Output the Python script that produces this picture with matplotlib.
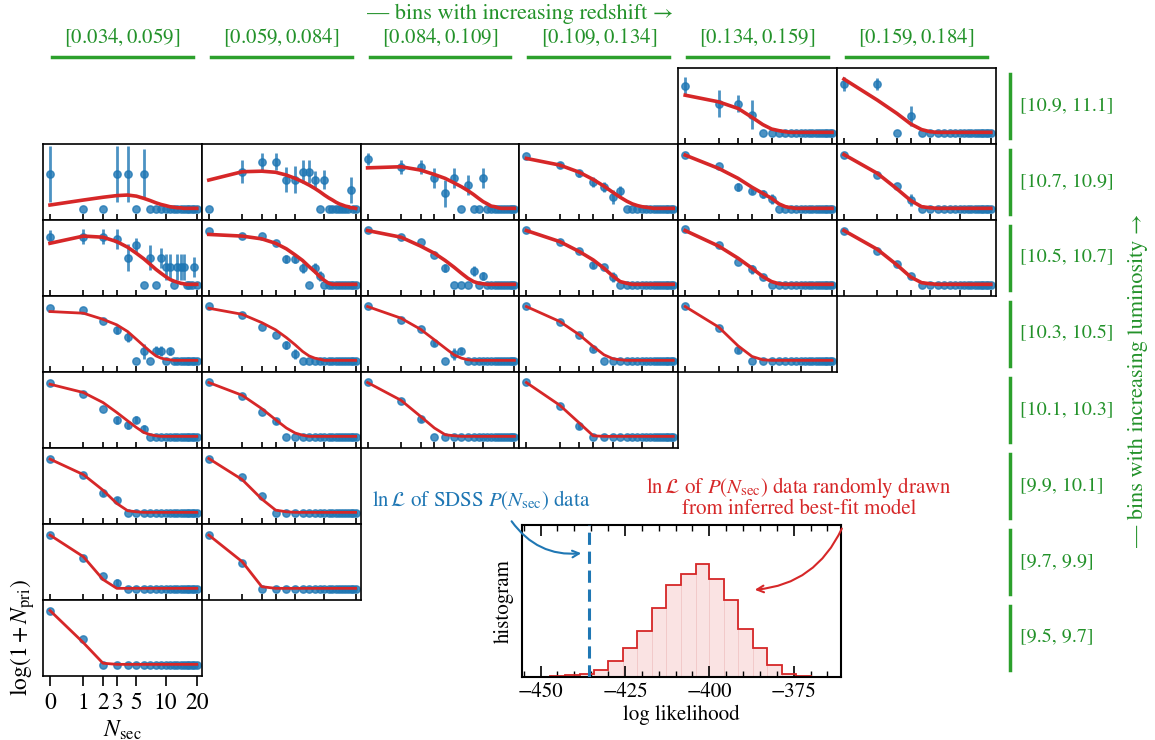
import numpy as np
import matplotlib
matplotlib.use('Agg')
import matplotlib.pyplot as plt
from matplotlib.lines import Line2D
from matplotlib.patches import FancyArrowPatch
from matplotlib.ticker import MultipleLocator

plt.rcParams['font.family'] = ['STIXGeneral', 'Liberation Serif', 'DejaVu Serif']
plt.rcParams['mathtext.fontset'] = 'stix'

# ---- data ---------------------------------------------------------------
z_bins = ['$[0.034, 0.059]$', '$[0.059, 0.084]$', '$[0.084, 0.109]$',
          '$[0.109, 0.134]$', '$[0.134, 0.159]$', '$[0.159, 0.184]$']
lum_bins = ['[10.9, 11.1]', '[10.7, 10.9]', '[10.5, 10.7]', '[10.3, 10.5]',
            '[10.1, 10.3]', '[9.9, 10.1]', '[9.7, 9.9]', '[9.5, 9.7]']
n_sec = list(range(21))
tick_vals = [0, 1, 2, 3, 5, 10, 20]

# observed log(1+N_pri), normalised per panel, keyed by (luminosity row, redshift column)
obs = {
    (0, 4): [.85, .53, .53, .33, 0, 0, 0, 0, 0, 0, 0, 0, 0, 0, 0, 0, 0, 0, 0, 0, 0],
    (0, 5): [.88, .88, 0, .30, 0, 0, 0, 0, 0, 0, 0, 0, 0, 0, 0, 0, 0, 0, 0, 0, 0],
    (1, 0): [.63, 0, 0, .63, .63, 0, .63, 0, 0, 0, 0, 0, 0, 0, 0, 0, 0, 0, 0, 0, 0],
    (1, 1): [0, .67, .85, .85, .53, .53, .67, .67, .53, 0, .53, 0, 0, 0, 0, 0, 0, 0, .34, 0, 0],
    (1, 2): [.90, .76, .76, .55, .28, .55, 0, .43, 0, 0, .55, 0, 0, 0, 0, 0, 0, 0, 0, 0, 0],
    (1, 3): [.96, .79, .64, .49, .40, .21, .32, 0, 0, 0, 0, 0, 0, 0, 0, 0, 0, 0, 0, 0, 0],
    (1, 4): [.97, .77, .39, .33, .27, .18, 0, 0, 0, 0, 0, 0, 0, 0, 0, 0, 0, 0, 0, 0, 0],
    (1, 5): [.98, .61, .41, .16, 0, 0, 0, 0, 0, 0, 0, 0, 0, 0, 0, 0, 0, 0, 0, 0, 0],
    (2, 0): [.87, .87, .87, .82, .49, .72, 0, .49, 0, .49, .32, .32, 0, .32, .32, .32, 0, 0, 0, .32, 0],
    (2, 1): [.97, .88, .88, .75, .47, .47, .30, 0, .30, .16, 0, 0, 0, 0, 0, 0, 0, 0, 0, 0, 0],
    (2, 2): [.99, .87, .78, .54, .31, 0, 0, 0, .25, 0, .16, 0, 0, 0, 0, 0, 0, 0, 0, 0, 0],
    (2, 3): [.99, .77, .61, .36, .33, .14, 0, 0, 0, 0, 0, 0, 0, 0, 0, 0, 0, 0, 0, 0, 0],
    (2, 4): [1.0, .72, .42, .28, .14, 0, 0, 0, 0, 0, 0, 0, 0, 0, 0, 0, 0, 0, 0, 0, 0],
    (2, 5): [.98, .62, .38, .16, 0, 0, 0, 0, 0, 0, 0, 0, 0, 0, 0, 0, 0, 0, 0, 0, 0],
    (3, 0): [.96, .92, .72, .56, .43, 0, .17, 0, .17, .17, 0, .17, 0, 0, 0, 0, 0, 0, 0, 0, 0],
    (3, 1): [.99, .82, .62, .47, .28, .13, 0, 0, 0, 0, 0, 0, 0, 0, 0, 0, 0, 0, 0, 0, 0],
    (3, 2): [.99, .74, .57, .32, 0, .13, .18, 0, 0, 0, 0, 0, 0, 0, 0, 0, 0, 0, 0, 0, 0],
    (3, 3): [.99, .71, .46, .21, 0, 0, 0, 0, 0, 0, 0, 0, 0, 0, 0, 0, 0, 0, 0, 0, 0],
    (3, 4): [.99, .59, .20, 0, 0, 0, 0, 0, 0, 0, 0, 0, 0, 0, 0, 0, 0, 0, 0, 0, 0],
    (4, 0): [.98, .77, .51, .31, .22, .31, .14, 0, 0, 0, 0, 0, 0, 0, 0, 0, 0, 0, 0, 0, 0],
    (4, 1): [.99, .74, .44, .29, 0, 0, 0, 0, 0, 0, 0, 0, 0, 0, 0, 0, 0, 0, 0, 0, 0],
    (4, 2): [.99, .65, .32, 0, 0, 0, 0, 0, 0, 0, 0, 0, 0, 0, 0, 0, 0, 0, 0, 0, 0],
    (4, 3): [.99, .55, .20, 0, 0, 0, 0, 0, 0, 0, 0, 0, 0, 0, 0, 0, 0, 0, 0, 0, 0],
    (5, 0): [.98, .69, .35, .23, 0, 0, 0, 0, 0, 0, 0, 0, 0, 0, 0, 0, 0, 0, 0, 0, 0],
    (5, 1): [.98, .64, .31, 0, 0, 0, 0, 0, 0, 0, 0, 0, 0, 0, 0, 0, 0, 0, 0, 0, 0],
    (6, 0): [.98, .55, .23, .11, 0, 0, 0, 0, 0, 0, 0, 0, 0, 0, 0, 0, 0, 0, 0, 0, 0],
    (6, 1): [.98, .46, 0, 0, 0, 0, 0, 0, 0, 0, 0, 0, 0, 0, 0, 0, 0, 0, 0, 0, 0],
    (7, 0): [.98, .46, 0, 0, 0, 0, 0, 0, 0, 0, 0, 0, 0, 0, 0, 0, 0, 0, 0, 0, 0],
}

err = {
    (0, 4): [.15, .24, .15, .26, 0, 0, 0, 0, 0, 0, 0, 0, 0, 0, 0, 0, 0, 0, 0, 0, 0],
    (0, 5): [.13, .11, 0, .18, 0, 0, 0, 0, 0, 0, 0, 0, 0, 0, 0, 0, 0, 0, 0, 0, 0],
    (1, 0): [.50, 0, 0, .50, .50, 0, .45, 0, 0, 0, 0, 0, 0, 0, 0, 0, 0, 0, 0, 0, 0],
    (1, 1): [0, .21, .15, .15, .23, .24, .21, .21, .15, 0, .18, 0, 0, 0, 0, 0, 0, 0, .23, 0, 0],
    (1, 2): [.11, .13, .13, .18, .25, .18, 0, .18, 0, 0, .18, 0, 0, 0, 0, 0, 0, 0, 0, 0, 0],
    (1, 3): [0, .05, .07, .09, .09, .13, .09, 0, 0, 0, 0, 0, 0, 0, 0, 0, 0, 0, 0, 0, 0],
    (1, 4): [0, 0, .07, .07, .07, .09, 0, 0, 0, 0, 0, 0, 0, 0, 0, 0, 0, 0, 0, 0, 0],
    (1, 5): [0, 0, 0, .11, 0, 0, 0, 0, 0, 0, 0, 0, 0, 0, 0, 0, 0, 0, 0, 0, 0],
    (2, 0): [.12, .13, .13, .18, .24, .12, 0, .23, 0, .18, .23, .23, 0, .23, .23, .23, 0, 0, 0, .18, 0],
    (2, 1): [0, 0, 0, 0, .07, .07, .09, 0, .09, .09, 0, 0, 0, 0, 0, 0, 0, 0, 0, 0, 0],
    (2, 2): [0, 0, 0, 0, .07, 0, 0, 0, .09, 0, .07, 0, 0, 0, 0, 0, 0, 0, 0, 0, 0],
    (2, 3): [0, 0, 0, .05, 0, .09, 0, 0, 0, 0, 0, 0, 0, 0, 0, 0, 0, 0, 0, 0, 0],
    (2, 4): [0, 0, 0, .08, 0, 0, 0, 0, 0, 0, 0, 0, 0, 0, 0, 0, 0, 0, 0, 0, 0],
    (2, 5): [0, 0, 0, 0, 0, 0, 0, 0, 0, 0, 0, 0, 0, 0, 0, 0, 0, 0, 0, 0, 0],
    (3, 0): [0, 0, 0, .07, .09, 0, .13, 0, .09, .09, 0, .07, 0, 0, 0, 0, 0, 0, 0, 0, 0],
    (3, 1): [0, 0, 0, 0, .07, .09, 0, 0, 0, 0, 0, 0, 0, 0, 0, 0, 0, 0, 0, 0, 0],
    (3, 2): [0, 0, 0, .06, 0, .11, .06, 0, 0, 0, 0, 0, 0, 0, 0, 0, 0, 0, 0, 0, 0],
    (3, 3): [0, 0, 0, .04, 0, 0, 0, 0, 0, 0, 0, 0, 0, 0, 0, 0, 0, 0, 0, 0, 0],
    (3, 4): [0, 0, .05, 0, 0, 0, 0, 0, 0, 0, 0, 0, 0, 0, 0, 0, 0, 0, 0, 0, 0],
    (4, 0): [0, 0, 0, .07, .07, .06, .07, 0, 0, 0, 0, 0, 0, 0, 0, 0, 0, 0, 0, 0, 0],
    (4, 1): [0, 0, 0, .05, 0, 0, 0, 0, 0, 0, 0, 0, 0, 0, 0, 0, 0, 0, 0, 0, 0],
    (4, 2): [0, 0, .05, 0, 0, 0, 0, 0, 0, 0, 0, 0, 0, 0, 0, 0, 0, 0, 0, 0, 0],
    (4, 3): [0, 0, .05, 0, 0, 0, 0, 0, 0, 0, 0, 0, 0, 0, 0, 0, 0, 0, 0, 0, 0],
    (5, 0): [0, 0, .05, .05, 0, 0, 0, 0, 0, 0, 0, 0, 0, 0, 0, 0, 0, 0, 0, 0, 0],
    (5, 1): [0, 0, 0, 0, 0, 0, 0, 0, 0, 0, 0, 0, 0, 0, 0, 0, 0, 0, 0, 0, 0],
    (6, 0): [0, 0, 0, .06, 0, 0, 0, 0, 0, 0, 0, 0, 0, 0, 0, 0, 0, 0, 0, 0, 0],
    (6, 1): [0, 0, 0, 0, 0, 0, 0, 0, 0, 0, 0, 0, 0, 0, 0, 0, 0, 0, 0, 0, 0],
    (7, 0): [0, 0, 0, 0, 0, 0, 0, 0, 0, 0, 0, 0, 0, 0, 0, 0, 0, 0, 0, 0, 0],
}

# best-fit model curves
fit = {
    (0, 4): [.68, .56, .44, .28, .15, .07, .04, .02, .01, .01, .01, .01, .01, .01, .01, .01, .01, .01, .01, .01, .01],
    (0, 5): [.97, .59, .35, .16, .06, .02, .01, .01, .01, .01, .01, .01, .01, .01, .01, .01, .01, .01, .01, .01, .01],
    (1, 0): [.07, .16, .21, .24, .25, .23, .19, .15, .11, .08, .06, .04, .03, .02, .02, .01, .01, .01, .01, .01, .01],
    (1, 1): [.52, .67, .68, .66, .61, .55, .49, .43, .37, .31, .25, .20, .16, .12, .09, .07, .05, .04, .02, .02, .01],
    (1, 2): [.74, .76, .70, .62, .55, .47, .40, .33, .26, .19, .13, .09, .05, .04, .02, .01, .01, .01, .01, .01, .01],
    (1, 3): [.91, .79, .66, .53, .41, .30, .21, .14, .09, .06, .04, .03, .02, .01, .01, .01, .01, .01, .01, .01, .01],
    (1, 4): [.97, .73, .55, .39, .28, .19, .09, .04, .02, .01, .01, .01, .01, .01, .01, .01, .01, .01, .01, .01, .01],
    (1, 5): [.98, .64, .36, .15, .04, .02, .01, .01, .01, .01, .01, .01, .01, .01, .01, .01, .01, .01, .01, .01, .01],
    (2, 0): [.75, .88, .86, .78, .68, .57, .47, .37, .28, .21, .15, .10, .07, .05, .03, .02, .01, .01, .01, .01, .01],
    (2, 1): [.91, .88, .83, .75, .65, .54, .44, .33, .24, .15, .08, .03, .01, .01, .01, .01, .01, .01, .01, .01, .01],
    (2, 2): [.98, .86, .70, .57, .44, .32, .21, .12, .06, .03, .02, .01, .01, .01, .01, .01, .01, .01, .01, .01, .01],
    (2, 3): [.98, .78, .60, .45, .30, .16, .06, .03, .01, .01, .01, .01, .01, .01, .01, .01, .01, .01, .01, .01, .01],
    (2, 4): [.98, .70, .48, .30, .15, .06, .02, .01, .01, .01, .01, .01, .01, .01, .01, .01, .01, .01, .01, .01, .01],
    (2, 5): [.98, .64, .36, .14, .04, .02, .01, .01, .01, .01, .01, .01, .01, .01, .01, .01, .01, .01, .01, .01, .01],
    (3, 0): [.89, .86, .75, .65, .53, .39, .27, .17, .09, .05, .03, .02, .01, .01, .01, .01, .01, .01, .01, .01, .01],
    (3, 1): [.95, .84, .69, .56, .42, .29, .17, .09, .05, .03, .01, .01, .01, .01, .01, .01, .01, .01, .01, .01, .01],
    (3, 2): [.98, .77, .57, .38, .23, .11, .05, .02, .01, .01, .01, .01, .01, .01, .01, .01, .01, .01, .01, .01, .01],
    (3, 3): [.98, .71, .47, .26, .11, .04, .02, .01, .01, .01, .01, .01, .01, .01, .01, .01, .01, .01, .01, .01, .01],
    (3, 4): [.98, .61, .27, .08, .02, .01, .01, .01, .01, .01, .01, .01, .01, .01, .01, .01, .01, .01, .01, .01, .01],
    (4, 0): [.95, .80, .62, .44, .29, .17, .08, .04, .02, .01, .01, .01, .01, .01, .01, .01, .01, .01, .01, .01, .01],
    (4, 1): [.98, .75, .51, .31, .16, .07, .03, .01, .01, .01, .01, .01, .01, .01, .01, .01, .01, .01, .01, .01, .01],
    (4, 2): [.98, .66, .37, .16, .04, .02, .01, .01, .01, .01, .01, .01, .01, .01, .01, .01, .01, .01, .01, .01, .01],
    (4, 3): [.98, .57, .25, .02, .01, .01, .01, .01, .01, .01, .01, .01, .01, .01, .01, .01, .01, .01, .01, .01, .01],
    (5, 0): [.97, .69, .41, .17, .04, .02, .01, .01, .01, .01, .01, .01, .01, .01, .01, .01, .01, .01, .01, .01, .01],
    (5, 1): [.98, .60, .25, .05, .02, .01, .01, .01, .01, .01, .01, .01, .01, .01, .01, .01, .01, .01, .01, .01, .01],
    (6, 0): [.97, .58, .17, .01, .01, .01, .01, .01, .01, .01, .01, .01, .01, .01, .01, .01, .01, .01, .01, .01, .01],
    (6, 1): [.97, .49, .04, .01, .01, .01, .01, .01, .01, .01, .01, .01, .01, .01, .01, .01, .01, .01, .01, .01, .01],
    (7, 0): [.98, .40, .03, .01, .01, .01, .01, .01, .01, .01, .01, .01, .01, .01, .01, .01, .01, .01, .01, .01, .01],
}

# histogram of log likelihoods of mock data drawn from the best-fit model
hist_edges = [-447.1, -442.7, -438.2, -434.3, -429.9, -425.5, -421.4, -417.0, -412.7, -408.3,
              -404.1, -400.0, -395.6, -391.4, -387.1, -382.8, -378.4, -374.3, -369.9, -365.7]
hist_counts = [2, 5, 10, 22, 47, 88, 137, 208, 275, 308, 337, 292, 229, 145, 88, 35, 8, 2, 1]
lnL_sdss = -435.8

# ---- figure ---------------------------------------------------------------
W, H = 1155, 740
fig = plt.figure(figsize=(W / 100, H / 100), dpi=100)

GREEN_LINE = '#2ca02c'
GREEN_TEXT = '#23922a'
BLUE = '#1f77b4'
RED = '#d62728'


def fx(px):
    return px / W


def fy(py):
    return 1 - py / H


def box(x0, y0, x1, y1):
    return [fx(x0), fy(y1), (x1 - x0) / W, (y1 - y0) / H]


grid_left, col_w = 43, 158.8
grid_top, row_h = 68, 76

fwd = lambda n: np.log10(1 + np.asarray(n, dtype=float))
inv = lambda v: 10 ** np.asarray(v, dtype=float) - 1

for (r, c), y in obs.items():
    x0 = grid_left + c * col_w
    y0 = grid_top + r * row_h
    ax = fig.add_axes(box(x0, y0, x0 + col_w, y0 + row_h))
    ax.set_xscale('function', functions=(fwd, inv))
    ax.errorbar(n_sec, y, yerr=err[(r, c)], fmt='o', ms=5.3, color=BLUE, alpha=0.8,
                elinewidth=2, capsize=0, zorder=2)
    # upper rows have a broader posterior band for the model
    ax.plot(n_sec, fit[(r, c)], color=RED, lw=2.6 if r <= 2 else 2, zorder=3)
    ax.set_xlim(-0.135, 22.3)
    ax.set_ylim(-0.2, 1.17)
    ax.set_xticks(tick_vals)
    ax.set_yticks([])
    for s in ax.spines.values():
        s.set_linewidth(1.2)
    if (r, c) == (7, 0):
        ax.tick_params(axis='x', direction='out', length=7, width=1.2, labelsize=17, pad=5)
        ax.set_xticklabels([str(t) for t in tick_vals])
        ax.set_xlabel(r'$N_{\rm sec}$', fontsize=17, labelpad=3)
        ax.set_ylabel(r'$\log(1+N_{\rm pri})$', fontsize=17, labelpad=4)
    else:
        ax.tick_params(axis='x', direction='in', length=4, width=1.2, labelbottom=False)

# redshift headers
for c, label in enumerate(z_bins):
    x0 = grid_left + c * col_w
    fig.text(fx(x0 + col_w / 2), fy(38), label, ha='center', va='center',
             color=GREEN_TEXT, fontsize=15)
    fig.add_artist(Line2D([fx(x0 + 9), fx(x0 + col_w - 9)], [fy(57), fy(57)],
                          color=GREEN_LINE, lw=2.5))
fig.text(fx(520), fy(14), '— bins with increasing redshift →', ha='center', va='center',
         color=GREEN_TEXT, fontsize=16)

# luminosity labels
for r, label in enumerate(lum_bins):
    cy = grid_top + (r + 0.5) * row_h
    fig.add_artist(Line2D([fx(1010), fx(1010)], [fy(cy - 32), fy(cy + 32)],
                          color=GREEN_LINE, lw=2.5))
    fig.text(fx(1020), fy(cy), label, ha='left', va='center', color=GREEN_TEXT, fontsize=14.5)
fig.text(fx(1138), fy(380), '— bins with increasing luminosity →', ha='center', va='center',
         rotation=90, color=GREEN_TEXT, fontsize=16)

# likelihood histogram
axh = fig.add_axes(box(522, 525, 841, 677))
widths = np.diff(hist_edges)
axh.bar(hist_edges[:-1], hist_counts, width=widths, align='edge', color='#fae3e3',
        edgecolor='#f2c8c8', lw=0.6, zorder=1)
axh.stairs(hist_counts, hist_edges, color=RED, lw=1.3, zorder=2)
axh.axvline(lnL_sdss, color=BLUE, ls=(0, (4, 2.2)), lw=2.2, zorder=3)
axh.set_xlim(-455.5, -361)
axh.set_ylim(0, 455)
axh.set_xticks([-450, -425, -400, -375])
axh.xaxis.set_minor_locator(MultipleLocator(5))
axh.set_yticks([])
axh.tick_params(axis='x', which='both', direction='in', top=True, bottom=True, labelsize=15)
axh.tick_params(axis='x', which='major', length=8, width=1.2)
axh.tick_params(axis='x', which='minor', length=4.5, width=1.0)
for s in axh.spines.values():
    s.set_linewidth(1.5)
axh.set_xlabel('log likelihood', fontsize=15, labelpad=2)
axh.set_ylabel('histogram', fontsize=15, labelpad=6)

# annotations
fig.text(fx(481), fy(500), r'$\ln\mathcal{L}$ of SDSS $P(N_{\rm sec})$ data',
         ha='center', va='center', color=BLUE, fontsize=15)
fig.add_artist(FancyArrowPatch((fx(510), fy(519)), (fx(584), fy(553)),
                               transform=fig.transFigure, connectionstyle='arc3,rad=0.3',
                               arrowstyle='->', mutation_scale=12, color=BLUE, lw=1.5))
fig.text(fx(799), fy(497), '$\\ln\\mathcal{L}$ of $P(N_{\\rm sec})$ data randomly drawn\nfrom inferred best-fit model',
         ha='center', va='center', color=RED, fontsize=15, linespacing=1.0)
fig.add_artist(FancyArrowPatch((fx(843), fy(526)), (fx(752), fy(590)),
                               transform=fig.transFigure, connectionstyle='arc3,rad=-0.3',
                               arrowstyle='->', mutation_scale=12, color=RED, lw=1.5))

fig.savefig('out.png', dpi=100)
